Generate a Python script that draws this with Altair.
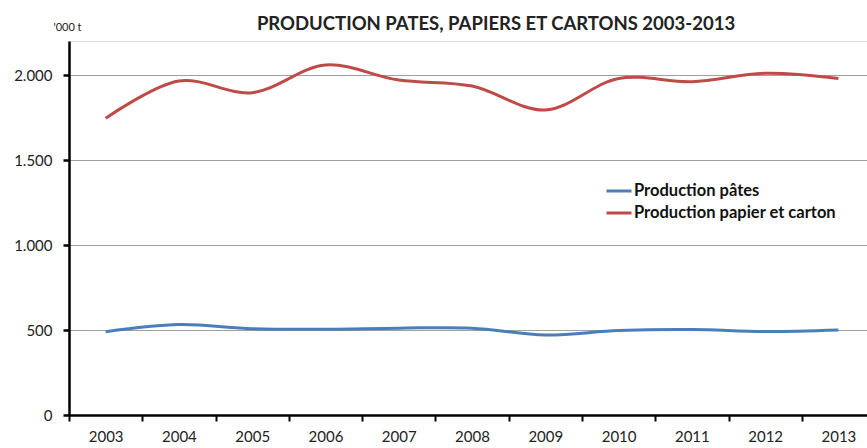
import altair as alt
import pandas as pd

years = list(range(2003, 2014))
pates = [490, 532, 508, 505, 511, 511, 471, 497, 503, 491, 500]
papier = [1745, 1965, 1896, 2059, 1970, 1935, 1794, 1980, 1961, 2010, 1980]

s_pates = "Production pâtes"
s_papier = "Production papier et carton"

df = pd.DataFrame(
    {"annee": years * 2,
     "valeur": pates + papier,
     "serie": [s_pates] * len(years) + [s_papier] * len(years)}
)

W, H = 798, 374
band = W / 10.89

x = alt.X(
    "annee:Q",
    scale=alt.Scale(domain=[2002.5, 2002.5 + 10.89], nice=False, zero=False),
    axis=alt.Axis(
        values=[y - 0.5 for y in years],
        labelExpr="format(datum.value + 0.5, 'd')",
        labelOffset=band / 2,
        labelFlush=False,
        labelOverlap=False,
        labelBound=False,
        grid=False,
        title=None,
        domainColor="black",
        domainWidth=2.5,
        tickColor="black",
        tickWidth=2,
        tickSize=6,
        labelPadding=8,
        labelFont="Lato",
        labelFontSize=15,
        labelColor="#222222",
    ),
)

y = alt.Y(
    "valeur:Q",
    scale=alt.Scale(domain=[0, 2200], nice=False),
    axis=alt.Axis(
        values=[0, 500, 1000, 1500, 2000],
        labelExpr="replace(format(datum.value, ','), ',', '.')",
        grid=True,
        gridColor="#A0A0A0",
        gridWidth=1,
        domainColor="black",
        domainWidth=2.5,
        tickColor="black",
        tickWidth=2.5,
        tickSize=6,
        labelPadding=11,
        labelFont="Lato",
        labelFontSize=15,
        labelColor="#222222",
        title="'000 t",
        titleAngle=0,
        titleAlign="center",
        titleBaseline="middle",
        titleX=-2,
        titleY=-14,
        titleFont="Lato",
        titleFontSize=11,
        titleFontWeight="normal",
        titleColor="#222222",
    ),
)

color = alt.Color(
    "serie:N",
    scale=alt.Scale(domain=[s_pates, s_papier], range=["#4A7EBB", "#BE4B48"]),
    legend=alt.Legend(
        title=None,
        orient="none",
        legendX=536,
        legendY=139,
        symbolType="stroke",
        symbolSize=625,
        symbolStrokeWidth=3,
        labelFont="Lato",
        labelFontSize=16.5,
        labelFontWeight="bold",
        labelColor="#111111",
        labelOffset=1,
        labelLimit=400,
        rowPadding=0,
        clipHeight=22,
    ),
)

chart = (
    alt.Chart(df)
    .mark_line(interpolate="catmull-rom", strokeWidth=3)
    .encode(x=x, y=y, color=color)
    .properties(
        width=W,
        height=H,
        autosize=alt.AutoSizeParams(type="none"),
        padding={"left": 69, "top": 41, "right": 0, "bottom": 33},
        title=alt.TitleParams(
            "PRODUCTION PATES, PAPIERS ET CARTONS 2003-2013",
            font="Lato",
            fontSize=18.5,
            fontWeight="bold",
            color="#222222",
            anchor="middle",
            dx=28,
            dy=24,
            offset=12,
        ),
    )
    .configure_view(stroke=None)
    .configure(background="white")
)

chart.save("out.html", embed_options={"renderer": "svg", "actions": False})
